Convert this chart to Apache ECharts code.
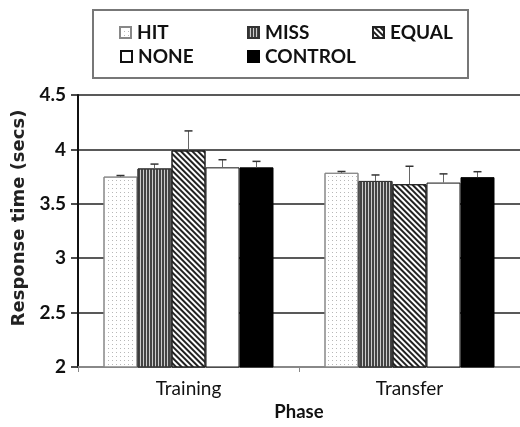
<!DOCTYPE html>
<html><head><meta charset="utf-8">
<script src="https://cdn.jsdelivr.net/npm/echarts@6/dist/echarts.min.js"></script>
<style>html,body{margin:0;padding:0;background:#fff}#c{width:520px;height:427px}</style>
</head><body><div id="c"></div>
<script>
const categories = ['Training', 'Transfer'];
const seriesNames = ['HIT', 'MISS', 'EQUAL', 'NONE', 'CONTROL'];
const hit = [3.75, 3.785];
const miss = [3.825, 3.71];
const equal = [3.99, 3.68];
const none = [3.835, 3.695];
const control = [3.835, 3.745];
const hitErr = [0.01, 0.012];
const missErr = [0.04, 0.055];
const equalErr = [0.18, 0.165];
const noneErr = [0.07, 0.08];
const controlErr = [0.055, 0.05];
const yTicks = [2, 2.5, 3, 3.5, 4, 4.5];

const means = [hit, miss, equal, none, control];
const errs = [hitErr, missErr, equalErr, noneErr, controlErr];
const FONT = "Lato, 'Liberation Sans', sans-serif";
const BAR_W = 34;

const styles = [
  {color: '#ffffff', borderColor: '#888', borderWidth: 1,
   decal: {symbol: 'rect', color: '#b8b8b8', dashArrayX: [1, 3], dashArrayY: [1, 3], symbolSize: 1}},
  {color: '#cccccc', borderColor: '#333', borderWidth: 1,
   decal: {symbol: 'rect', color: '#444', dashArrayX: [2, 1], dashArrayY: [10, 0], symbolSize: 1}},
  {color: '#ffffff', borderColor: '#222', borderWidth: 1,
   decal: {symbol: 'rect', color: '#222', dashArrayX: [2, 2], dashArrayY: [10, 0], symbolSize: 1, rotation: -Math.PI / 4}},
  {color: '#ffffff', borderColor: '#111', borderWidth: 1},
  {color: '#000000', borderColor: '#000', borderWidth: 1}
];

const series = seriesNames.map((n, i) => ({
  name: n, type: 'bar', data: means[i], barWidth: BAR_W, barGap: '0%',
  itemStyle: styles[i], z: 2
}));

const errData = [];
categories.forEach((c, ci) => {
  seriesNames.forEach((n, si) => {
    errData.push([ci, si, means[si][ci], means[si][ci] + errs[si][ci]]);
  });
});
series.push({
  type: 'custom', name: 'err', z: 5, silent: true,
  encode: {x: 0, y: 3},
  data: errData,
  renderItem: function (params, api) {
    const ci = api.value(0), si = api.value(1);
    const base = api.coord([ci, api.value(2)]);
    const top = api.coord([ci, api.value(3)]);
    const x = base[0] + (si - 2) * BAR_W;
    return {type: 'group', children: [
      {type: 'line', shape: {x1: x, y1: base[1], x2: x, y2: top[1]}, style: {stroke: '#666', lineWidth: 1}},
      {type: 'line', shape: {x1: x - 4, y1: top[1], x2: x + 4, y2: top[1]}, style: {stroke: '#333', lineWidth: 1.5}}
    ]};
  }
});

const legendPos = [
  {name: 'HIT', left: 119, top: 23},
  {name: 'MISS', left: 247, top: 23},
  {name: 'EQUAL', left: 372, top: 23},
  {name: 'NONE', left: 120, top: 47},
  {name: 'CONTROL', left: 247, top: 47}
];
const legends = legendPos.map(p => ({
  data: [p.name], left: p.left, top: p.top, padding: 0, itemWidth: 11, itemHeight: 11,
  icon: 'rect', selectedMode: false,
  textStyle: {fontFamily: FONT, fontWeight: 'bold', fontSize: 19, color: '#111', padding: [0, 0, 0, 1]}
}));

const chart = echarts.init(document.getElementById('c'), null, {renderer: 'canvas'});
chart.setOption({
  backgroundColor: '#fff',
  animation: false,
  legend: legends,
  grid: {left: 78, top: 95, width: 445, height: 274, containLabel: false},
  xAxis: {
    type: 'category', data: categories,
    axisLine: {lineStyle: {color: '#888', width: 2}},
    axisTick: {show: true, length: 5, lineStyle: {color: '#888'}},
    axisLabel: {fontFamily: FONT, fontSize: 19, color: '#111', margin: 12},
    name: 'Phase', nameLocation: 'middle', nameGap: 36,
    nameTextStyle: {fontFamily: FONT, fontWeight: 'bold', fontSize: 18.5, color: '#111'}
  },
  yAxis: {
    type: 'value', min: yTicks[0], max: yTicks[yTicks.length - 1], interval: 0.5,
    axisLine: {show: true, lineStyle: {color: '#111', width: 2}},
    axisTick: {show: true, length: 7, lineStyle: {color: '#111', width: 1.5}},
    axisLabel: {fontFamily: FONT, fontWeight: 'bold', fontSize: 19, color: '#111', margin: 12},
    splitLine: {show: true, lineStyle: {color: '#222', width: 1.5}}
  },
  graphic: [
    {type: 'rect', shape: {x: 93, y: 10, width: 375, height: 68}, style: {fill: 'none', stroke: '#777', lineWidth: 2}, z: 0},
    {type: 'text', x: 19, y: 218, rotation: Math.PI / 2,
     style: {text: 'Response time (secs)', font: "bold 18px 'DejaVu Sans'", fill: '#222', align: 'center', verticalAlign: 'middle'}}
  ],
  series: series
});
</script></body></html>
